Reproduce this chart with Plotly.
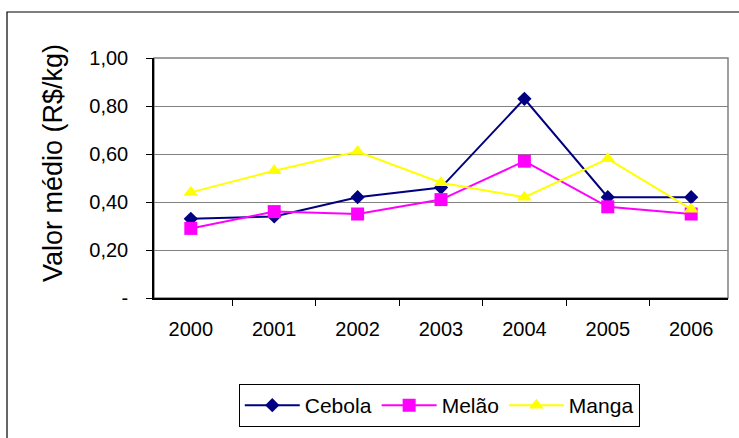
import plotly.graph_objects as go

# Average price per kg (R$) by year
years = ["2000", "2001", "2002", "2003", "2004", "2005", "2006"]
cebola = [0.33, 0.34, 0.42, 0.46, 0.83, 0.42, 0.42]
melao = [0.29, 0.36, 0.35, 0.41, 0.57, 0.38, 0.35]
manga = [0.44, 0.53, 0.61, 0.48, 0.42, 0.58, 0.37]

y_ticks = [0, 0.2, 0.4, 0.6, 0.8, 1.0]
y_tick_text = ["-", "0,20", "0,40", "0,60", "0,80", "1,00"]

FONT = "Liberation Sans, Arial, sans-serif"

fig = go.Figure()
fig.add_trace(go.Scatter(
    x=years, y=cebola, name="Cebola", mode="lines+markers",
    line=dict(color="#000080", width=2),
    marker=dict(symbol="diamond", size=11, color="#000080"),
))
fig.add_trace(go.Scatter(
    x=years, y=melao, name="Melão", mode="lines+markers",
    line=dict(color="#FF00FF", width=2),
    marker=dict(symbol="square", size=13, color="#FF00FF"),
))
fig.add_trace(go.Scatter(
    x=years, y=manga, name="Manga", mode="lines+markers",
    line=dict(color="#FFFF00", width=2),
    marker=dict(symbol="triangle-up", size=13, color="#FFFF00"),
))

L, R, T, B = 154, 11, 58, 140
W, H = 739, 438
pw, ph = W - L - R, H - T - B

def px_x(p):
    return (p - L) / pw

def px_y(p):
    return (H - B - p) / ph

shapes = [
    # outer chart frame
    dict(type="rect", xref="paper", yref="paper",
         x0=px_x(7), x1=px_x(760), y0=px_y(460), y1=px_y(12),
         line=dict(color="black", width=1.2), layer="below"),
    # plot area frame
    dict(type="rect", xref="paper", yref="paper",
         x0=0, x1=1, y0=0, y1=1,
         line=dict(color="#808080", width=1.5), layer="below"),
]

fig.update_layout(
    width=W, height=H,
    margin=dict(l=L, r=R, t=T, b=B, autoexpand=False),
    paper_bgcolor="white", plot_bgcolor="white",
    font=dict(family=FONT, size=20, color="black"),
    showlegend=True,
    legend=dict(
        orientation="h", x=0.497, xanchor="center", y=px_y(384), yanchor="top",
        bordercolor="black", borderwidth=1, font=dict(size=21),
        itemwidth=55, tracegroupgap=0,
    ),
    shapes=shapes,
    annotations=[dict(
        text="Valor médio (R$/kg)", textangle=-90, showarrow=False,
        xref="paper", yref="paper", x=px_x(53), y=px_y(163),
        xanchor="center", yanchor="middle", font=dict(size=27),
    )],
)
fig.update_xaxes(
    type="category", tickson="boundaries", ticks="outside", ticklen=6,
    tickcolor="black", showline=True, linecolor="black", linewidth=1.5,
    showgrid=False, ticklabelstandoff=12, tickfont=dict(size=20),
)
fig.update_yaxes(
    range=[0, 1], tickvals=y_ticks, ticktext=y_tick_text,
    ticks="outside", ticklen=6, tickcolor="black",
    showline=True, linecolor="black", linewidth=1.5,
    showgrid=True, gridcolor="#808080", gridwidth=1.2,
    zeroline=False, ticklabelstandoff=14, tickfont=dict(size=20),
)

fig.write_html("out.html")
